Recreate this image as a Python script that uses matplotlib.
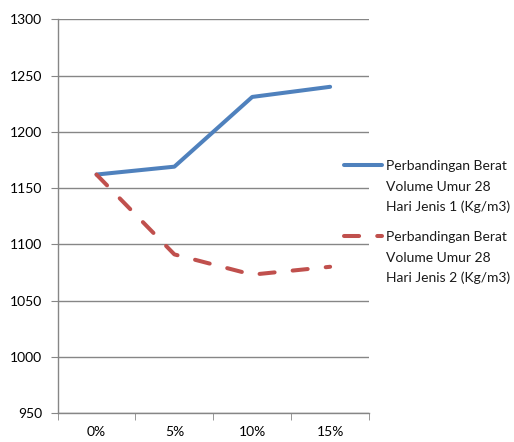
import numpy as np
import matplotlib.pyplot as plt
from matplotlib.lines import Line2D
from matplotlib.ticker import FixedLocator, NullFormatter

plt.rcParams['font.family'] = ['Lato', 'DejaVu Sans']

categories = ['0%', '5%', '10%', '15%']
jenis1 = [1162, 1169, 1231, 1240]
jenis2 = [1162, 1091, 1073, 1080]
label1 = 'Perbandingan Berat\nVolume Umur 28\nHari Jenis 1 (Kg/m3)'
label2 = 'Perbandingan Berat\nVolume Umur 28\nHari Jenis 2 (Kg/m3)'

W, H = 514, 442
fig = plt.figure(figsize=(W / 100, H / 100), dpi=100)
ax = fig.add_axes([0.112, 0.0656, 0.606, 0.8907])

x = np.arange(len(categories))
grid_col = '#868686'
blue, red = '#4F81BD', '#C0504D'
lw = 2.9
red_dash = (3.75, 4.5)

ax.plot(x, jenis1, color=blue, lw=lw, solid_capstyle='round',
        solid_joinstyle='round', zorder=3)
ax.plot(x, jenis2, color=red, lw=lw, dashes=red_dash,
        dash_capstyle='round', dash_joinstyle='round', zorder=3)

ax.set_xlim(-0.5, 3.5)
ax.set_ylim(950, 1300)
ax.set_yticks(np.arange(950, 1301, 50))
ax.yaxis.grid(True, color=grid_col, lw=1)
ax.set_axisbelow(True)

# category labels in the middle, tick marks between categories
ax.set_xticks(x)
ax.set_xticklabels(categories)
ax.xaxis.set_minor_locator(FixedLocator(np.arange(-0.5, 3.6, 1)))
ax.xaxis.set_minor_formatter(NullFormatter())
ax.tick_params(axis='x', which='major', length=0, pad=9, labelsize=10)
ax.tick_params(axis='x', which='minor', length=5, color=grid_col, direction='out')
ax.tick_params(axis='y', length=5, color=grid_col, labelsize=10, pad=6)

for s in ['top', 'right']:
    ax.spines[s].set_visible(False)
for s in ['left', 'bottom']:
    ax.spines[s].set_color(grid_col)
    ax.spines[s].set_linewidth(1)

# legend on the right, handle level with the first text line
def fx(px):
    return px / W

def fy(py):
    return 1 - py / H

entries = [(label1, blue, None, 165), (label2, red, red_dash, 236)]
for label, col, dash, y0 in entries:
    kw = dict(color=col, lw=lw, transform=fig.transFigure)
    if dash:
        kw.update(dashes=dash, dash_capstyle='round')
    else:
        kw.update(solid_capstyle='round')
    fig.add_artist(Line2D([fx(344), fx(382)], [fy(y0), fy(y0)], **kw))
    for i, line in enumerate(label.split('\n')):
        fig.text(fx(386), fy(y0 + 1 + i * 20.5), line, fontsize=10,
                 va='center', ha='left', color='#1a1a1a')

fig.savefig('out.png', dpi=100)
